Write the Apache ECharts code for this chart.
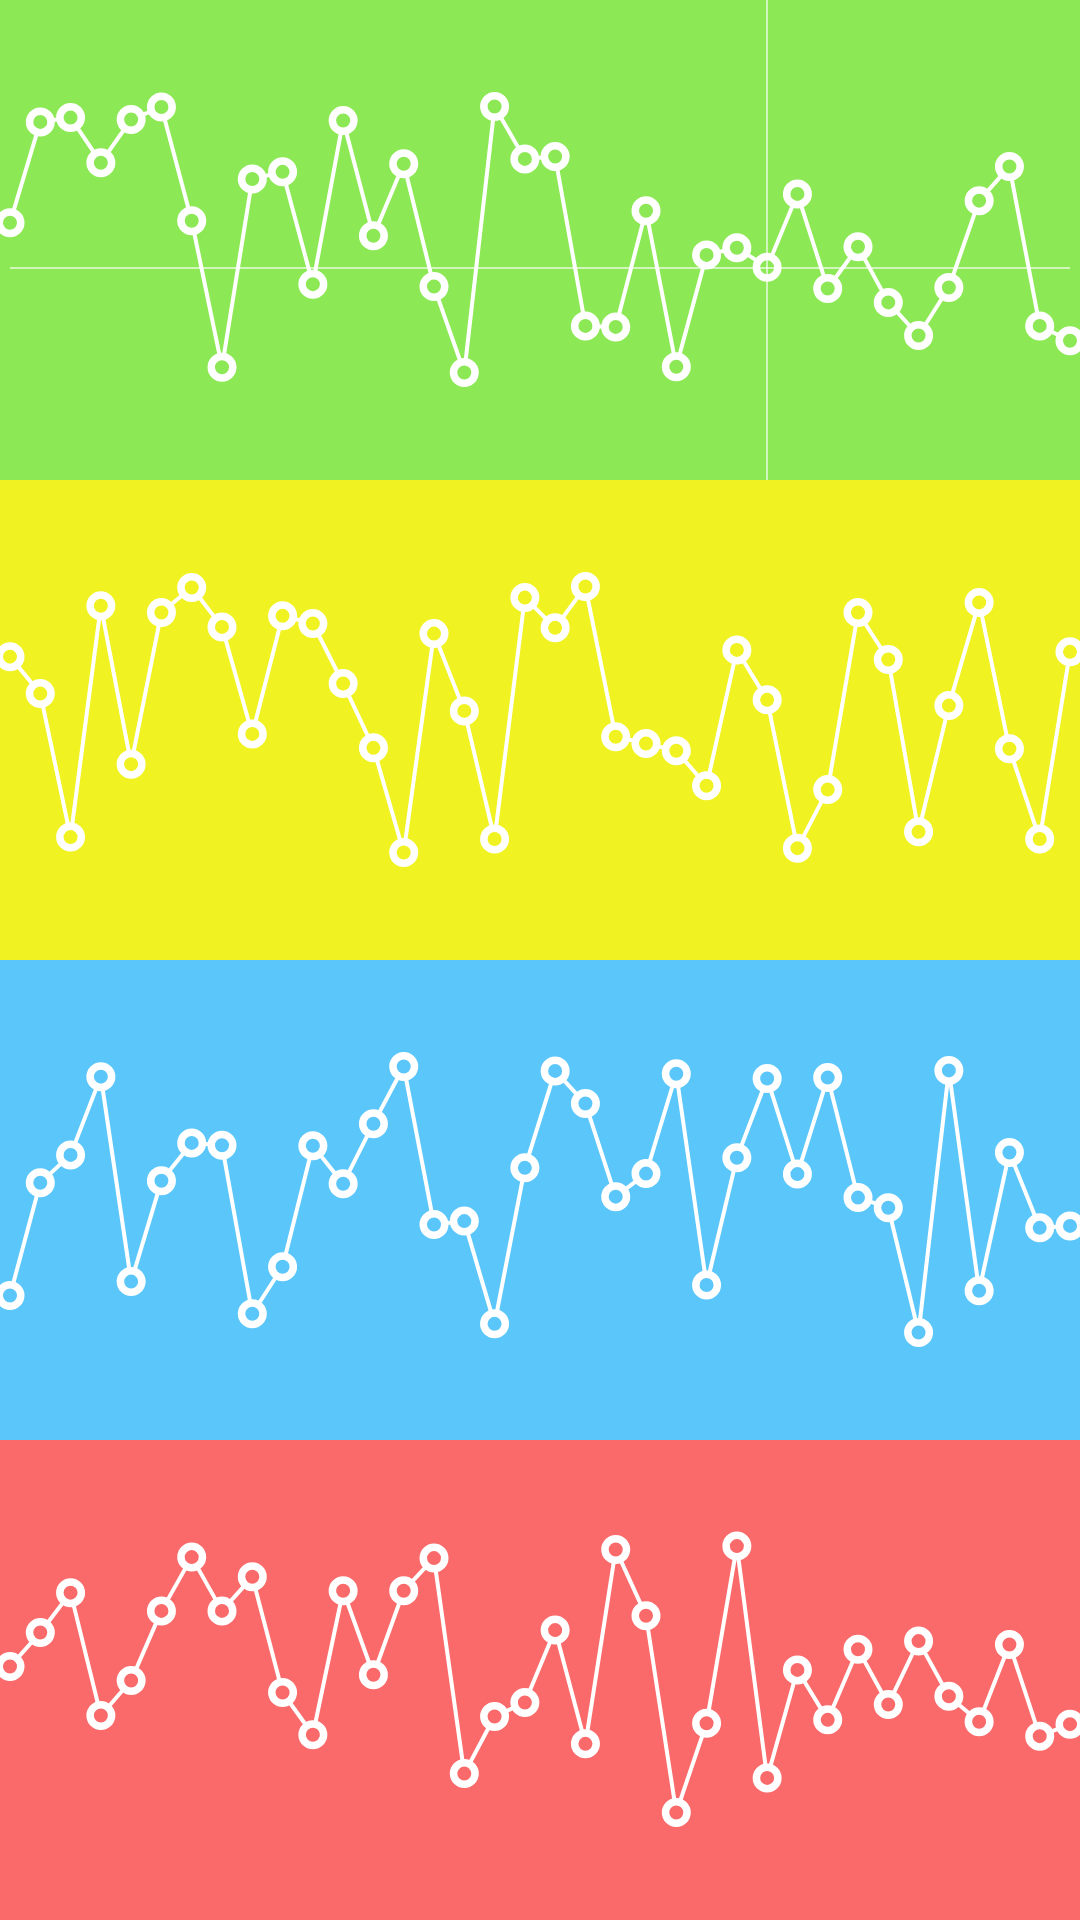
<!DOCTYPE html>
<html>
<head>
<meta charset="utf-8">
<style>
  html, body { margin: 0; padding: 0; background: #ffffff; }
  #chart { width: 1080px; height: 1920px; }
</style>
<script src="https://cdn.jsdelivr.net/npm/echarts@6/dist/echarts.min.js"></script>
</head>
<body>
<div id="chart"></div>
<script>
const categories = ['1','2','3','4','5','6','7','8','9','10','11','12','13','14','15','16','17','18',
  '19','20','21','22','23','24','25','26','27','28','29','30','31','32','33','34','35','36'];

const seriesGreen = [53.6, 74.6, 75.5, 66.1, 75.1, 77.7, 54.0, 23.5, 62.7, 64.2, 40.8, 74.9, 50.9, 65.9, 40.3, 22.4, 77.8, 66.9,
  67.4, 32.1, 31.9, 56.1, 23.6, 46.9, 48.4, 44.3, 59.6, 39.9, 48.6, 37.0, 30.1, 40.1, 58.2, 65.3, 32.1, 29.0];
const seriesYellow = [63.2, 55.5, 25.6, 73.8, 40.8, 72.4, 77.6, 69.4, 47.1, 71.7, 70.1, 57.6, 44.2, 22.4, 68.0, 51.9, 25.2, 75.5,
  69.2, 77.8, 46.5, 45.1, 43.6, 36.3, 64.6, 54.2, 23.3, 35.5, 72.4, 62.6, 26.7, 53.0, 74.5, 44.0, 25.2, 64.2];
const seriesBlue = [30.1, 53.6, 59.4, 75.7, 33.0, 54.0, 61.9, 61.4, 26.3, 36.1, 61.3, 53.4, 65.9, 77.8, 44.9, 45.6, 24.2, 56.7,
  76.9, 70.1, 50.7, 55.5, 76.3, 32.3, 58.8, 75.3, 55.4, 75.5, 50.5, 48.4, 22.4, 77.0, 31.1, 59.9, 44.2, 44.6];
const seriesRed = [52.8, 59.9, 68.2, 42.6, 49.9, 64.4, 75.6, 64.4, 71.5, 47.4, 38.6, 68.6, 51.1, 68.6, 75.4, 30.5, 42.4, 45.3,
  60.4, 36.7, 77.2, 63.4, 22.4, 41.0, 77.9, 29.6, 52.1, 41.7, 56.4, 44.9, 58.1, 46.6, 41.3, 57.4, 38.3, 40.8];

const pointerIndex = 25;

const panels = [
  { data: seriesGreen, bg: '#8de855' },
  { data: seriesYellow, bg: '#f0f221' },
  { data: seriesBlue, bg: '#5bc6fa' },
  { data: seriesRed, bg: '#fa6a6a' }
];

const PANEL_H = 480;
const grids = [], xAxes = [], yAxes = [], series = [], graphics = [];

panels.forEach((p, i) => {
  graphics.push({
    type: 'rect', z: -10, silent: true,
    shape: { x: 0, y: i * PANEL_H, width: 1080, height: PANEL_H },
    style: { fill: p.bg }
  });
  grids.push({ left: 10, right: 10, top: i * PANEL_H, height: PANEL_H, show: false });
  const pointerStyle = { color: 'rgba(255,255,255,0.8)', width: 1.5, type: 'solid' };
  xAxes.push({
    type: 'category', gridIndex: i, data: categories, boundaryGap: false,
    axisLine: { show: false }, axisTick: { show: false }, axisLabel: { show: false }, splitLine: { show: false },
    axisPointer: i === 0 ? {
      show: true, status: 'show', value: pointerIndex, type: 'line', triggerTooltip: false,
      label: { show: false }, lineStyle: pointerStyle
    } : { show: false }
  });
  yAxes.push({
    type: 'value', gridIndex: i, min: 0, max: 100,
    axisLine: { show: false }, axisTick: { show: false }, axisLabel: { show: false }, splitLine: { show: false },
    axisPointer: i === 0 ? {
      show: true, status: 'show', value: p.data[pointerIndex], type: 'line', triggerTooltip: false,
      label: { show: false }, lineStyle: pointerStyle
    } : { show: false }
  });
  series.push({
    type: 'line', xAxisIndex: i, yAxisIndex: i, data: p.data,
    symbol: 'circle', symbolSize: 21.5, showAllSymbol: true,
    lineStyle: { color: '#ffffff', width: 4 },
    itemStyle: { color: p.bg, borderColor: '#ffffff', borderWidth: 7.5 },
    z: 3
  });
});

const chart = echarts.init(document.getElementById('chart'), null, { renderer: 'canvas' });
chart.setOption({
  animation: false,
  backgroundColor: 'transparent',
  graphic: graphics,
  grid: grids,
  xAxis: xAxes,
  yAxis: yAxes,
  series: series
});
</script>
</body>
</html>
